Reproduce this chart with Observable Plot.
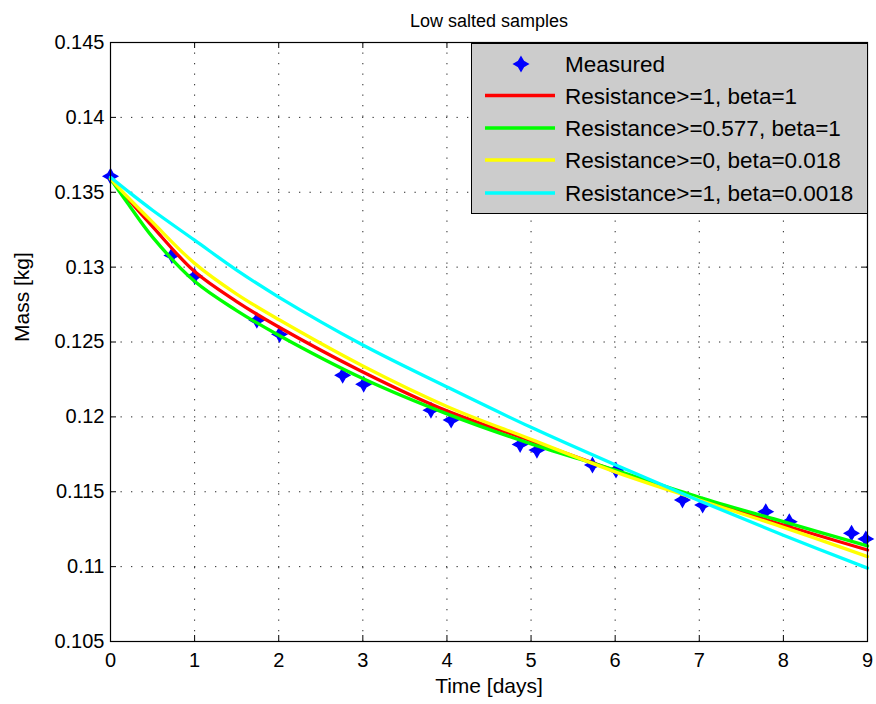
<!DOCTYPE html>
<html>
<head>
<meta charset="utf-8">
<script src="https://cdn.jsdelivr.net/npm/d3@7"></script>
<script src="https://cdn.jsdelivr.net/npm/@observablehq/plot@0.6"></script>
<style>
  body { margin: 0; background: #fff; }
  #chart { position: relative; width: 876px; height: 704px; font-family: "Liberation Sans", Arial, Helvetica, sans-serif; }
  #legend { position: absolute; left: 471px; top: 43px; }
</style>
</head>
<body>
<div id="chart"></div>
<script>
// Measured mass of the low salted samples
const measuredDays = [0, 0.73, 1.0, 1.74, 2.01, 2.76, 3.01, 3.81, 4.05, 4.87, 5.07, 5.73, 6.01, 6.80, 7.04, 7.79, 8.07, 8.81, 8.98];
const measuredMass = [0.13607, 0.13078, 0.1294, 0.12645, 0.12551, 0.12278, 0.12218, 0.12045, 0.11979, 0.11816, 0.11778, 0.11678, 0.11645, 0.11445, 0.11411, 0.11367, 0.1130, 0.11223, 0.11185];

// Model curves, sampled in time
const modelDays = [0, 0.2, 0.5, 1, 1.5, 2, 3, 4, 5, 6, 7, 8, 9];
const massR1Beta1 = [0.1359, 0.1346, 0.1327, 0.1297, 0.1277, 0.1260, 0.1230, 0.1204, 0.1184, 0.1164, 0.11452, 0.11278, 0.11111];
const massR0577Beta1 = [0.1359, 0.1343, 0.1320, 0.12905, 0.1271, 0.12545, 0.12256, 0.1202, 0.1182, 0.11645, 0.11463, 0.1130, 0.11138];
const massR0Beta0018 = [0.1359, 0.1347, 0.1330, 0.13025, 0.1282, 0.1265, 0.1234, 0.1207, 0.1185, 0.11633, 0.11445, 0.11262, 0.11067];
const massR1Beta00018 = [0.1360, 0.1351, 0.1338, 0.1318, 0.1298, 0.1280, 0.1248, 0.1220, 0.1193, 0.1168, 0.1144, 0.1121, 0.1099];

const seriesNames = ["Resistance>=1, beta=1", "Resistance>=0.577, beta=1", "Resistance>=0, beta=0.018", "Resistance>=1, beta=0.0018"];
const seriesColors = ["#ff0000", "#00ff00", "#ffff00", "#00ffff"];
const seriesValues = [massR1Beta1, massR0577Beta1, massR0Beta0018, massR1Beta00018];

const xTicks = [0, 1, 2, 3, 4, 5, 6, 7, 8, 9];
const xTickLabels = ["0", "1", "2", "3", "4", "5", "6", "7", "8", "9"];
const yTicks = [0.105, 0.11, 0.115, 0.12, 0.125, 0.13, 0.135, 0.14, 0.145];
const yTickLabels = ["0.105", "0.11", "0.115", "0.12", "0.125", "0.13", "0.135", "0.14", "0.145"];

const measured = measuredDays.map((t, i) => ({t, m: measuredMass[i]}));
const curves = seriesNames.flatMap((name, s) => modelDays.map((t, i) => ({series: name, t, m: seriesValues[s][i]})));

const W = 876, H = 704, ML = 110, MR = 9, MT = 42, MB = 63;
const FW = W - ML - MR, FH = H - MT - MB, TICK = 6;
const font = "'Liberation Sans', Arial, Helvetica, sans-serif";
const dotted = {stroke: "#000", strokeOpacity: 0.85, strokeWidth: 1, strokeDasharray: "1.3,9.2"};

// four-pointed star marker; outer radius = Plot's r
const star4 = {
  draw(context, size) {
    const R = Math.sqrt(size / Math.PI), k = R * 0.36;
    context.moveTo(0, -R);
    context.lineTo(k, -k);
    context.lineTo(R, 0);
    context.lineTo(k, k);
    context.lineTo(0, R);
    context.lineTo(-k, k);
    context.lineTo(-R, 0);
    context.lineTo(-k, -k);
    context.closePath();
  }
};
const MARK_R = 7;

const plot = Plot.plot({
  width: W, height: H,
  marginLeft: ML, marginRight: MR, marginTop: MT, marginBottom: MB,
  style: {fontFamily: font, background: "#fff", color: "#000", overflow: "visible"},
  x: {domain: [0, 9]},
  y: {domain: [0.105, 0.145]},
  color: {domain: seriesNames, range: seriesColors},
  marks: [
    Plot.gridX(xTicks, dotted),
    Plot.gridY(yTicks, dotted),
    // inward tick marks on all four sides
    Plot.tickX(xTicks, {x: d => d, insetTop: FH - TICK, stroke: "#000"}),
    Plot.tickX(xTicks, {x: d => d, insetBottom: FH - TICK, stroke: "#000"}),
    Plot.tickY(yTicks, {y: d => d, insetRight: FW - TICK, stroke: "#000"}),
    Plot.tickY(yTicks, {y: d => d, insetLeft: FW - TICK, stroke: "#000"}),
    Plot.axisX(xTicks, {tickSize: 0, tickPadding: 11, fontSize: 20, label: null, tickFormat: (d, i) => xTickLabels[i]}),
    Plot.axisY(yTicks, {tickSize: 0, tickPadding: 6, fontSize: 20, label: null, tickFormat: (d, i) => yTickLabels[i]}),
    Plot.text(["Time [days]"], {frameAnchor: "bottom", dy: 51, fontSize: 21, text: d => d}),
    Plot.text(["Mass [kg]"], {frameAnchor: "left", dx: -88, rotate: -90, fontSize: 21, text: d => d}),
    Plot.text(["Low salted samples"], {frameAnchor: "top", dy: -28, fontSize: 18, text: d => d}),
    // measured points (drawn beneath the curves)
    Plot.dot(measured, {x: "t", y: "m", symbol: star4, fill: "#0000ff", stroke: "#0000ff", strokeWidth: 1.5, r: MARK_R}),
    Plot.line(curves, {x: "t", y: "m", z: "series", stroke: "series", strokeWidth: 3.3, curve: "catmull-rom"}),
    Plot.frame({stroke: "#000", strokeWidth: 1.2})
  ]
});

const chart = document.getElementById("chart");
chart.appendChild(plot);

// Legend box
const LW = 397, LH = 171, rowY = [21, 52.5, 85, 117, 150];
const leg = d3.create("svg").attr("id", "legend").attr("width", LW).attr("height", LH)
  .style("font-family", font);
leg.append("rect").attr("x", 0.5).attr("y", 0.5).attr("width", LW - 1).attr("height", LH - 1)
  .attr("fill", "#cccccc").attr("stroke", "#000").attr("stroke-width", 1);
const entries = [{name: "Measured", marker: true}, ...seriesNames.map((n, i) => ({name: n, color: seriesColors[i]}))];
entries.forEach((e, i) => {
  const g = leg.append("g").attr("transform", `translate(0,${rowY[i]})`);
  if (e.marker) {
    g.append("path").attr("transform", "translate(50,0)")
      .attr("d", d3.symbol(star4, Math.PI * MARK_R * MARK_R)())
      .attr("fill", "#0000ff").attr("stroke", "#0000ff").attr("stroke-width", 1.5);
  } else {
    g.append("line").attr("x1", 14).attr("x2", 84).attr("stroke", e.color).attr("stroke-width", 3.3);
  }
  g.append("text").attr("x", 94).attr("dy", "0.36em").attr("font-size", 22.5).attr("fill", "#000").text(e.name);
});
chart.appendChild(leg.node());
</script>
</body>
</html>
